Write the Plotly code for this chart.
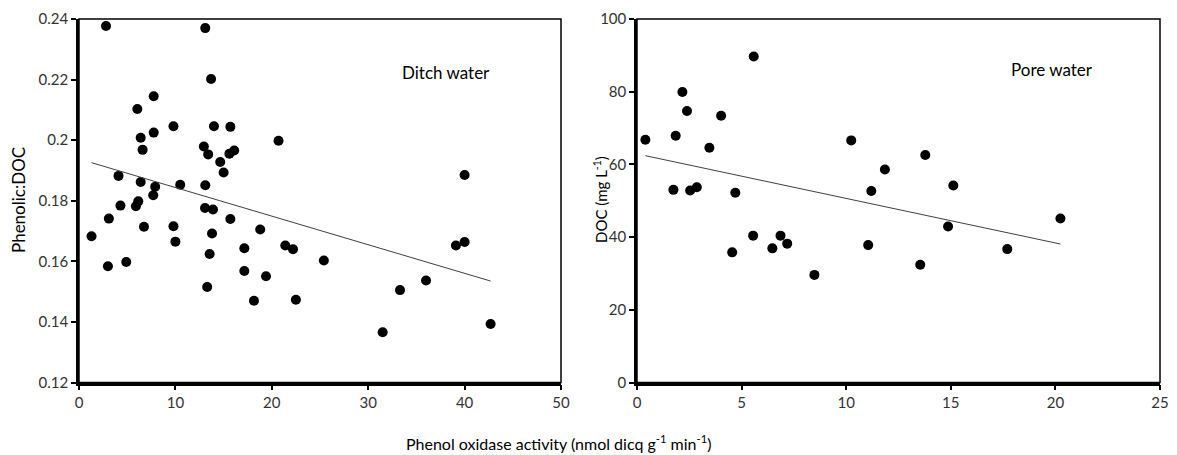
import plotly.graph_objects as go

# ---- Ditch water (left panel) ----
ditch_x = [2.8, 13.1, 13.7, 7.75, 6.05, 9.8, 14.0, 15.7, 6.4, 7.75, 20.7, 6.6, 12.95, 13.4,
           14.65, 15.6, 16.1, 15.0, 4.1, 6.4, 10.5, 13.1, 7.9, 7.7, 1.3, 3.1, 4.3, 3.0,
           4.9, 5.9, 6.15, 6.74, 9.8, 10.0, 13.07, 13.9, 13.8, 13.55, 13.3, 15.7, 17.15,
           17.15, 18.8, 18.15, 19.4, 21.4, 22.2, 22.5, 25.4, 31.5, 33.3, 36.0, 39.1, 40.0,
           42.7, 40.0]
ditch_y = [0.2377, 0.237, 0.2202, 0.2145, 0.2103, 0.2046, 0.2046, 0.2044, 0.2008, 0.2025,
           0.1998, 0.1968, 0.1979, 0.1953, 0.1928, 0.1955, 0.1966, 0.1893, 0.1882, 0.1862,
           0.1853, 0.1851, 0.1846, 0.1818, 0.1683, 0.1741, 0.1784, 0.1584, 0.1598, 0.1782,
           0.1798, 0.1714, 0.1716, 0.1665, 0.1776, 0.1771, 0.1692, 0.1624, 0.1515, 0.174,
           0.1643, 0.1568, 0.1705, 0.147, 0.1551, 0.1652, 0.164, 0.1473, 0.1603, 0.1366,
           0.1505, 0.1537, 0.1652, 0.1664, 0.1393, 0.1885]
ditch_trend_slope = -0.000944
ditch_trend_intercept = 0.1938

# ---- Pore water (right panel) ----
pore_x = [0.4, 1.85, 2.17, 2.39, 4.02, 3.46, 5.58, 1.74, 2.54, 2.86, 4.7, 10.24, 11.2, 11.85,
          4.55, 5.55, 6.47, 6.86, 7.18, 8.48, 11.05, 13.78, 15.12, 14.87, 13.54, 17.7, 20.24]
pore_y = [66.8, 67.9, 79.9, 74.7, 73.4, 64.6, 89.7, 53.0, 52.8, 53.7, 52.2, 66.6, 52.7, 58.6,
          35.8, 40.4, 36.9, 40.4, 38.2, 29.6, 37.8, 62.6, 54.2, 42.9, 32.4, 36.7, 45.1]
pore_trend_slope = -1.225
pore_trend_intercept = 62.89

# ---- Tick labels ----
left_xticks = [0, 10, 20, 30, 40, 50]
left_yticks = [0.12, 0.14, 0.16, 0.18, 0.2, 0.22, 0.24]
left_yticklabels = ["0.12", "0.14", "0.16", "0.18", "0.2", "0.22", "0.24"]
right_xticks = [0, 5, 10, 15, 20, 25]
right_yticks = [0, 20, 40, 60, 80, 100]

FONT = "Lato, 'Open Sans', sans-serif"
W, H = 1177, 455

fig = go.Figure()

fig.add_trace(go.Scatter(x=ditch_x, y=ditch_y, mode="markers",
                         marker=dict(color="black", size=10),
                         xaxis="x", yaxis="y", showlegend=False))
dx = [min(ditch_x), max(ditch_x)]
fig.add_trace(go.Scatter(x=dx, y=[ditch_trend_intercept + ditch_trend_slope * v for v in dx],
                         mode="lines", line=dict(color="#404040", width=1),
                         xaxis="x", yaxis="y", showlegend=False))

fig.add_trace(go.Scatter(x=pore_x, y=pore_y, mode="markers",
                         marker=dict(color="black", size=10),
                         xaxis="x2", yaxis="y2", showlegend=False))
px_ = [min(pore_x), max(pore_x)]
fig.add_trace(go.Scatter(x=px_, y=[pore_trend_intercept + pore_trend_slope * v for v in px_],
                         mode="lines", line=dict(color="#404040", width=1),
                         xaxis="x2", yaxis="y2", showlegend=False))

ydom = [1 - 382.5 / H, 1 - 19 / H]
axis_common = dict(showgrid=False, zeroline=False, showline=True, linecolor="black",
                   linewidth=2.5, ticks="outside", ticklen=5, tickwidth=2, tickcolor="black",
                   tickfont=dict(family=FONT, size=15, color="#333333"), mirror=False,
                   automargin=False)


def label(text, x, y, size, angle=0):
    return dict(text=text, x=x / W, y=1 - y / H, xref="paper", yref="paper",
                xanchor="center", yanchor="middle", showarrow=False, textangle=angle,
                font=dict(family=FONT, size=size, color="black"))


fig.update_layout(
    width=W, height=H,
    margin=dict(l=0, r=0, t=0, b=0),
    paper_bgcolor="white", plot_bgcolor="white",
    xaxis=dict(domain=[79 / W, 561 / W], range=[0, 50], tickvals=left_xticks,
               anchor="y", **axis_common),
    yaxis=dict(domain=ydom, range=[0.12, 0.24], tickvals=left_yticks,
               ticktext=left_yticklabels, anchor="x", **axis_common),
    xaxis2=dict(domain=[637 / W, 1160 / W], range=[0, 25], tickvals=right_xticks,
                anchor="y2", **axis_common),
    yaxis2=dict(domain=ydom, range=[0, 100], tickvals=right_yticks,
                anchor="x2", **axis_common),
    shapes=[
        dict(type="rect", xref="x domain", yref="y domain", x0=0, x1=1, y0=0, y1=1,
             line=dict(color="black", width=1.5), layer="below"),
        dict(type="rect", xref="x2 domain", yref="y2 domain", x0=0, x1=1, y0=0, y1=1,
             line=dict(color="black", width=1.5), layer="below"),
    ],
    annotations=[
        label("Ditch water", 446, 72, 17),
        label("Pore water", 1052, 69, 17),
        label("Phenolic:DOC", 18, 200, 17, -90),
        label("DOC (mg L<sup>-1</sup>)", 600, 200, 15, -90),
        label("Phenol oxidase activity (nmol dicq g<sup>-1</sup> min<sup>-1</sup>)", 558, 442, 16),
    ],
)

fig.write_html("out.html", config={"displayModeBar": False},
               post_script="document.body.style.margin='0';document.body.style.overflow='hidden';")
